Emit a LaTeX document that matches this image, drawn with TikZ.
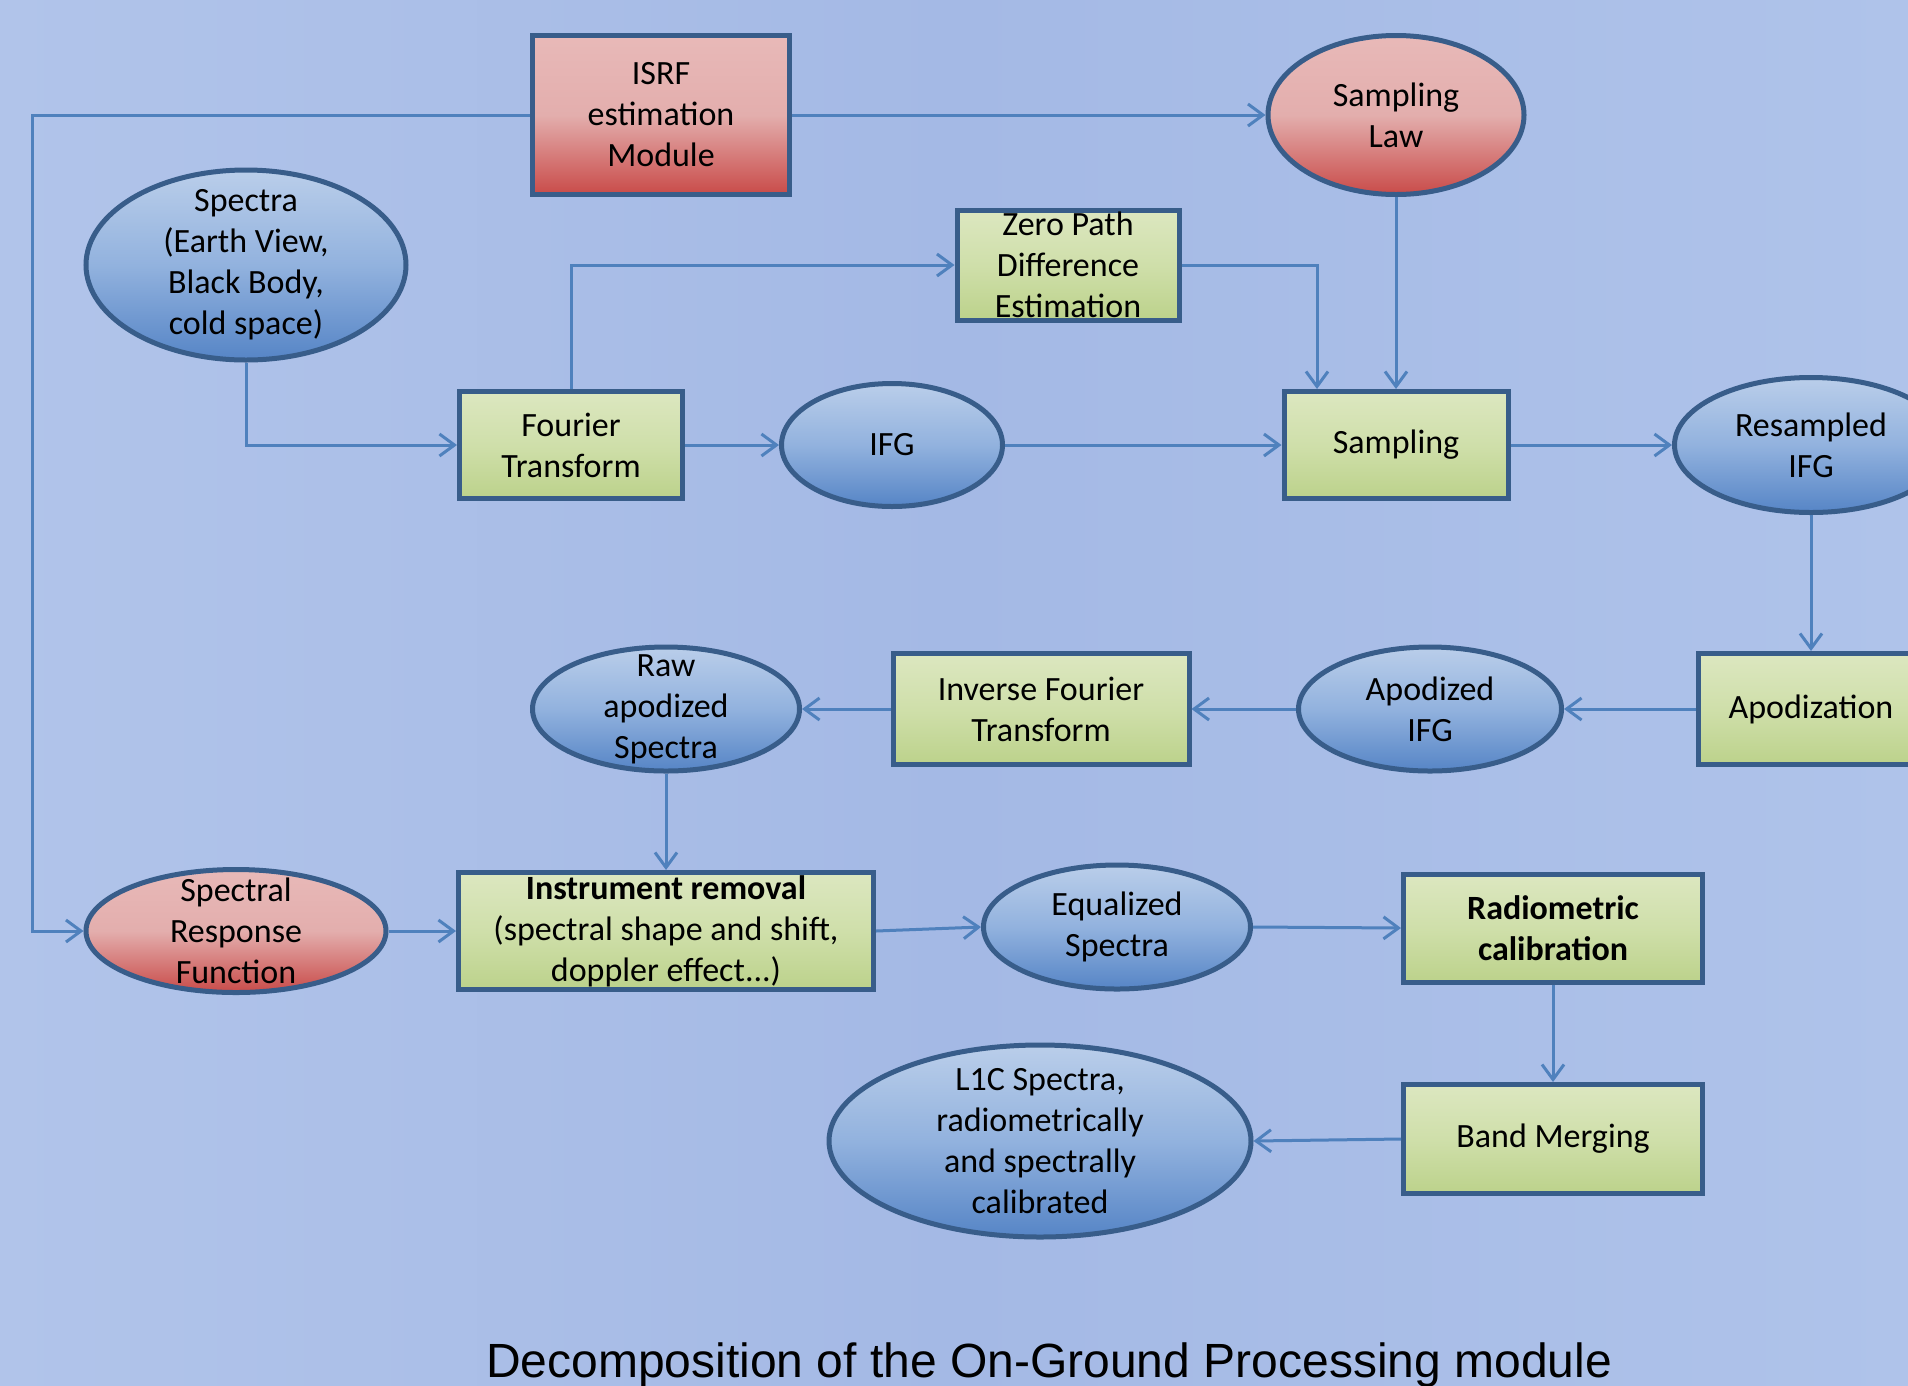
\documentclass[tikz,border=0pt]{standalone}
\usepackage{fontspec}
\setmainfont{Carlito}
\newfontfamily\captionfont{Liberation Sans}
\usetikzlibrary{shapes.geometric,arrows.meta}

\definecolor{bgL}{HTML}{B1C4EA}
\definecolor{bgM}{HTML}{A4B9E5}
\definecolor{bgR}{HTML}{AFC3EA}
\definecolor{edgeblue}{HTML}{385D8A}
\definecolor{lineblue}{HTML}{4F81BD}
\definecolor{gT}{HTML}{DCE7C0}
\definecolor{gM}{HTML}{CFDFAA}
\definecolor{gB}{HTML}{BCD28B}
\definecolor{bT}{HTML}{BACEEA}
\definecolor{bM}{HTML}{92B2DE}
\definecolor{bB}{HTML}{5685C6}
\definecolor{rT}{HTML}{E8B9B8}
\definecolor{rM}{HTML}{E3AEAD}
\definecolor{rB}{HTML}{C94B49}

\tikzset{
  shapebase/.style={draw=edgeblue, line width=5pt, align=center,
    font=\fontsize{34pt}{41pt}\selectfont, text=black},
  rectbase/.style={shapebase, rectangle, inner xsep=0pt, inner ysep=-14pt},
  ellbase/.style={shapebase, ellipse, inner sep=-28pt},
  greenbox/.style={rectbase, top color=gT, bottom color=gB, middle color=gM},
  redbox/.style={rectbase, top color=rT, bottom color=rB, middle color=rM},
  blueoval/.style={ellbase, top color=bT, bottom color=bB, middle color=bM},
  redoval/.style={ellbase, top color=rT, bottom color=rB, middle color=rM},
  sz/.style 2 args={minimum width=#1pt, minimum height=#2pt},
  arr/.style={draw=lineblue, line width=3pt,
    -{Straight Barb[length=15pt,width=22pt]}}
}

\begin{document}
\begin{tikzpicture}[x=1pt,y=-1pt]
% canvas and background
\useasboundingbox (0,0) rectangle (1908,1385);
\clip (0,0) rectangle (1908,1385);
\shade[left color=bgL, right color=bgR, middle color=bgM] (0,0) rectangle (1908,1385);

% top row
\node[redbox, sz={257}{159}] (isrf) at (661,115) {ISRF\\estimation\\Module};
\node[redoval, sz={256}{159}] (slaw) at (1396,115) {Sampling\\Law};
\node[blueoval, sz={320}{190}] (spectra) at (246,265) {Spectra\\(Earth View,\\Black Body,\\cold space)};
\node[greenbox, sz={222}{110}] (zpd) at (1068,265) {Zero Path\\Difference\\Estimation};

% interferogram row
\node[greenbox, sz={223}{107}] (ft) at (571,445) {Fourier\\Transform};
\node[blueoval, sz={221}{123}] (ifg) at (892,445) {IFG};
\node[greenbox, sz={224}{107}] (samp) at (1396,445) {Sampling};
\node[blueoval, sz={273}{135}] (rifg) at (1811,445) {Resampled\\IFG};

% apodization row
\node[greenbox, sz={225}{111}] (apod) at (1811,709) {Apodization};
\node[blueoval, sz={263}{124}] (aifg) at (1430,709) {Apodized\\IFG};
\node[greenbox, sz={296}{111}] (ift) at (1041,709) {Inverse Fourier\\Transform};
\node[blueoval, sz={267}{124}] (raw) at (666,709) {Raw\\apodized\\Spectra};

% calibration rows
\node[redoval, sz={300}{123}] (srf) at (236,931) {Spectral\\Response\\Function};
\node[greenbox, sz={415}{117}] (inst) at (666,931) {\textbf{Instrument removal}\\(spectral shape and shift,\\doppler effect...)};
\node[blueoval, sz={267}{124}] (eq) at (1117,927) {Equalized\\Spectra};
\node[greenbox, sz={299}{108}] (radio) at (1553,928) {\textbf{Radiometric}\\\textbf{calibration}};
\node[greenbox, sz={299}{109}] (band) at (1553,1139) {Band Merging};
\node[blueoval, sz={422}{192}] (l1c) at (1040,1141) {L1C Spectra,\\radiometrically\\and spectrally\\calibrated};

% caption
\node[font=\captionfont\fontsize{48pt}{56pt}\selectfont, anchor=base, inner sep=0pt]
  (cap) at (1049,1377) {Decomposition of the On-Ground Processing module};

% connectors
\draw[arr] (isrf.west) -- ++(-498,0) |- (srf.west);
\draw[arr] (isrf.east) -- (slaw.west);
\draw[arr] (spectra.south) |- (ft.west);
\draw[arr] (ft.north) |- (zpd.west);
\draw[arr] (zpd.east) -| ([xshift=-79pt]samp.north);
\draw[arr] (slaw.south) -- (samp.north);
\draw[arr] (ft.east) -- (ifg.west);
\draw[arr] (ifg.east) -- (samp.west);
\draw[arr] (samp.east) -- (rifg.west);
\draw[arr] (rifg.south) -- (apod.north);
\draw[arr] (apod.west) -- (aifg.east);
\draw[arr] (aifg.west) -- (ift.east);
\draw[arr] (ift.west) -- (raw.east);
\draw[arr] (raw.south) -- (inst.north);
\draw[arr] (srf.east) -- (inst.west);
\draw[arr] (inst.east) -- (eq.west);
\draw[arr] (eq.east) -- (radio.west);
\draw[arr] (radio.south) -- (band.north);
\draw[arr] (band.west) -- (l1c.east);
\end{tikzpicture}
\end{document}
